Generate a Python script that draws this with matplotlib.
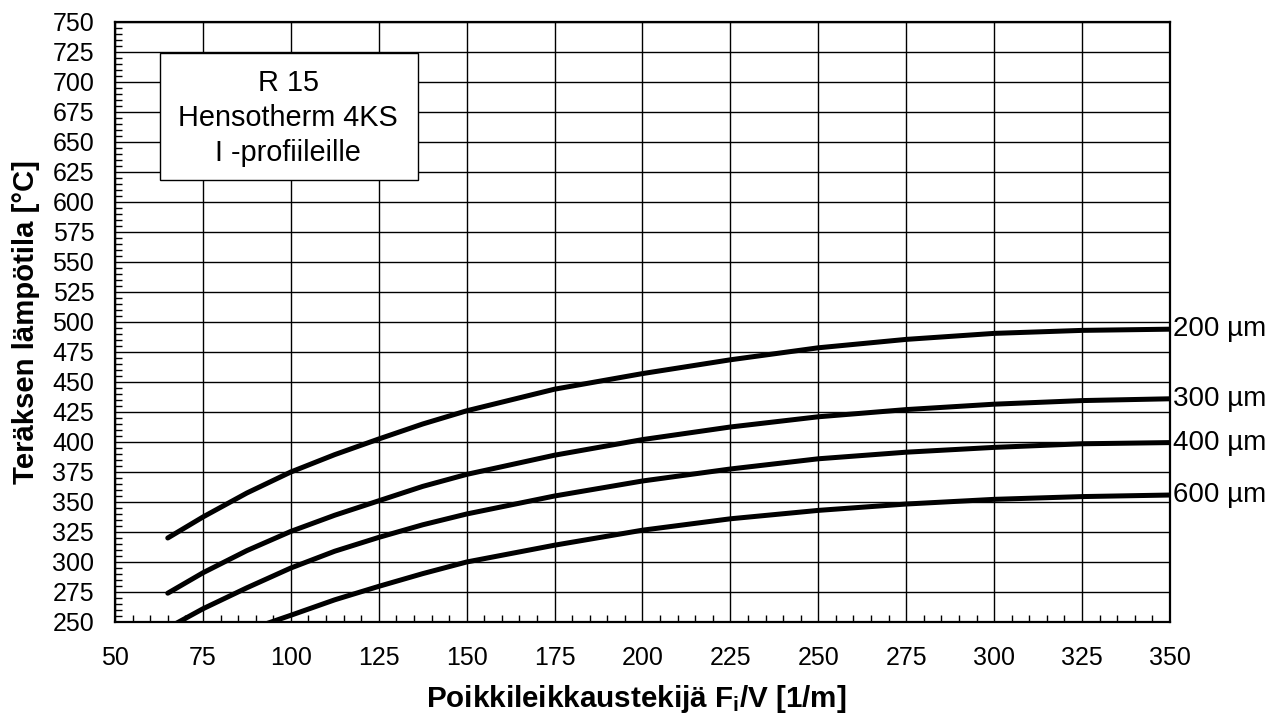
import matplotlib
matplotlib.use("Agg")
import matplotlib.pyplot as plt
from matplotlib.ticker import MultipleLocator
from matplotlib.patches import Rectangle

plt.rcParams["font.family"] = ["Liberation Sans", "DejaVu Sans"]
plt.rcParams["mathtext.fontset"] = "custom"
plt.rcParams["mathtext.rm"] = "Liberation Sans:bold"
plt.rcParams["mathtext.it"] = "Liberation Sans:bold"

# steel temperature curves (x = section factor Fi/V)
x_vals = [65, 75, 87.5, 100, 112.5, 125, 137.5, 150, 175, 200, 225, 250, 275, 300, 325, 350]
t_200 = [320, 337.5, 357.5, 375, 389.5, 402.5, 415, 426, 444, 457, 468.5, 478.5, 485.5, 490.5, 493, 494]
t_300 = [274, 291, 309.5, 325.5, 339, 351, 363, 373, 389, 402, 412.5, 421, 427, 431.5, 434.5, 436]
t_400 = [245, 261, 278.5, 295, 309, 320.5, 331, 340, 355, 367.5, 377.5, 386, 391.5, 395.5, 398.5, 399.5]
t_600 = [217, 229, 243, 255.6, 268.5, 279.7, 290.3, 300, 314, 326.5, 336, 343, 348.3, 352.2, 354.5, 355.8]
curves = [("200 µm", t_200), ("300 µm", t_300), ("400 µm", t_400), ("600 µm", t_600)]

box_lines = ["R 15", "Hensotherm 4KS", "I -profiileille"]

fig = plt.figure(figsize=(12.71, 7.16), dpi=100)
ax = fig.add_axes([0.0905, 0.1313, 0.8300, 0.8380])

for label, temps in curves:
    ax.plot(x_vals, temps, color="black", lw=3.6, solid_capstyle="round",
            solid_joinstyle="round", zorder=3)
    ax.annotate(label, xy=(x_vals[-1], temps[-1]), xytext=(2, 0),
                textcoords="offset points", ha="left", va="center",
                fontsize=20, annotation_clip=False)

ax.set_xlim(50, 350)
ax.set_ylim(250, 750)
ax.xaxis.set_major_locator(MultipleLocator(25))
ax.xaxis.set_minor_locator(MultipleLocator(5))
ax.yaxis.set_major_locator(MultipleLocator(25))
ax.yaxis.set_minor_locator(MultipleLocator(5))
ax.tick_params(which="both", direction="in", top=False, right=False)
ax.tick_params(which="major", length=0, labelsize=18)
ax.tick_params(axis="x", which="major", pad=17)
ax.tick_params(axis="y", which="major", pad=15)
ax.tick_params(which="minor", length=5, width=1)
ax.grid(True, which="major", color="black", lw=1.0)
for s in ax.spines.values():
    s.set_linewidth(1.6)

ax.set_xlabel(r"Poikkileikkaustekijä F$_{i}$/V [1/m]", fontsize=21.3, fontweight="bold")
ax.set_ylabel("Teräksen lämpötila [°C]", fontsize=21.1, fontweight="bold")
ax.xaxis.set_label_coords(0.494, -0.101)
ax.xaxis.label.set_va("top")
ax.yaxis.set_label_coords(-0.071, 0.5)

# info box in the upper left corner
ax.add_patch(Rectangle((0.0427, 0.7367), 0.2445, 0.2116, transform=ax.transAxes,
                       facecolor="white", edgecolor="black", lw=1.0, zorder=4))
ax.text(0.164, 0.840, "\n".join(box_lines), transform=ax.transAxes,
        ha="center", va="center", fontsize=20.8, linespacing=1.34, zorder=5)

fig.savefig("out.png", dpi=100)
